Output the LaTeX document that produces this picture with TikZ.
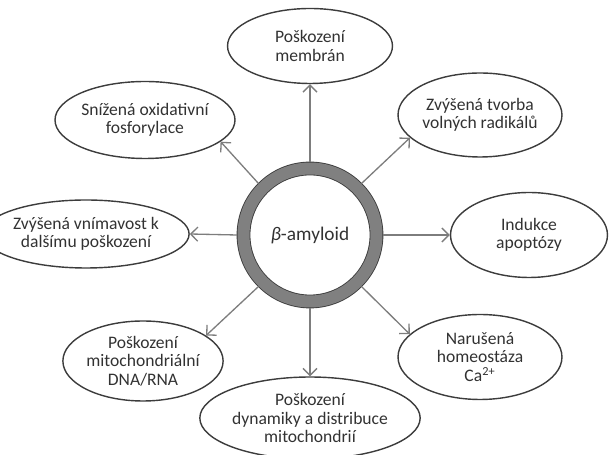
\documentclass[tikz,border=0pt]{standalone}
\usepackage{fontspec}
\setmainfont{Carlito}
\usetikzlibrary{positioning, calc, shapes.geometric, arrows.meta}
\definecolor{ringgray}{RGB}{128,128,128}
\definecolor{arrgray}{RGB}{125,125,125}
\definecolor{edgegray}{RGB}{60,60,60}
\definecolor{textgray}{RGB}{50,50,50}
\tikzstyle{Arrow} = [
%gray arrow from the ring to an effect:
draw=arrgray, line width=0.75pt,
-{Straight Barb[length=4pt, width=8pt]}
]

\begin{document}
\begin{tikzpicture}[x=0.02cm, y=-0.02cm,
				effect/.style = {ellipse, draw=edgegray, text=textgray, line width=0.8pt, align=center, inner sep=0pt, font=\fontsize{10}{10.5}\selectfont},
				ring/.style = {circle, draw=edgegray, text=textgray, line width=0.5pt, double=ringgray, double distance=0.24cm, minimum size=2.66cm, outer sep=0.13cm, font=\fontsize{11}{13}\selectfont},
			]
			\useasboundingbox (0,0) rectangle (609,455);

			\node[ring](Beta) at (310,235){{\itshape β}-amyloid};

			\node[effect, minimum width=3.3cm, minimum height=1.5cm](Memb) at (310,46){Poškození\\membrán};
			\node[effect, minimum width=3.28cm, minimum height=1.68cm](Radik) at (480,115){Zvýšená tvorba\\volných radikálů};
			\node[effect, minimum width=3.14cm, minimum height=1.7cm](Apop) at (529,235){Indukce\\apoptózy};
			\node[effect, minimum width=3.28cm, minimum height=1.7cm](Calc) at (480,357){Narušená\\homeostáza\\Ca\textsuperscript{2+}};
			\node[effect, minimum width=3.16cm, minimum height=1.64cm](Dyn) at (310,418){Poškození\\dynamiky a distribuce\\mitochondrií};
			\node[effect, minimum width=3.14cm, minimum height=1.6cm](Dna) at (143,361){Poškození\\mitochondriální\\DNA/RNA};
			\node[effect, minimum width=3.16cm, minimum height=1.36cm](Vnim) at (86,234){Zvýšená vnímavost k\\dalšímu poškození};
			\node[effect, minimum width=3.2cm, minimum height=1.54cm](Fosf) at (145,120){Snížená oxidativní\\fosforylace};

			\draw[Arrow](Beta.north)--(Memb.south);
			\draw[Arrow](Beta.45)--(Radik.198);
			\draw[Arrow](Beta.east)--(Apop.west);
			\draw[Arrow](Beta.-45)--(Calc.162);
			\draw[Arrow](Beta.south)--(Dyn.north);
			\draw[Arrow](Beta.-135)--(Dna.22);
			\draw[Arrow](Beta.west)--(Vnim.east);
			\draw[Arrow](Beta.135)--(Fosf.-16);

		\end{tikzpicture}
\end{document}
